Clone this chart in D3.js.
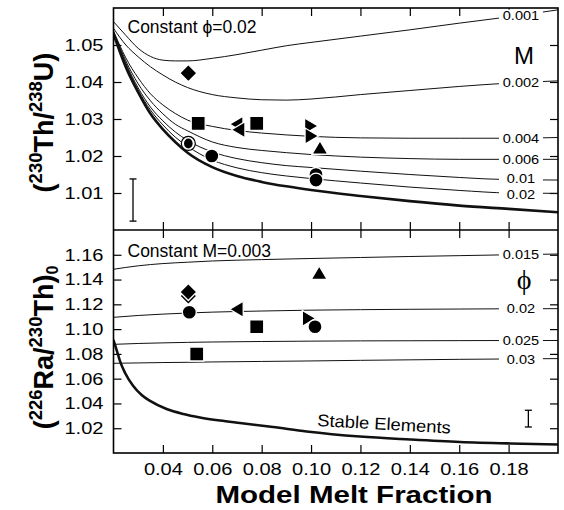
<!DOCTYPE html>
<html><head><meta charset="utf-8">
<script src="https://cdn.jsdelivr.net/npm/d3@7"></script>
<style>body{margin:0;background:#fff} text{font-family:"Liberation Sans",Arial,Helvetica,sans-serif;fill:#000}</style>
</head><body><svg id="c" width="564" height="510"></svg>
<script>
// ---------- DATA ----------
const xGrid = [0.02,0.025,0.03,0.035,0.04,0.045,0.05,0.06,0.07,0.08,0.09,0.10,0.12,0.14,0.16,0.18,0.20];
const thLabels = ["0.001","0.002","0.004","0.006","0.01","0.02"];
const thM001 = [1.0563,1.0526,1.0491,1.0469,1.0459,1.0457,1.0457,1.0464,1.0474,1.0486,1.0498,1.0507,1.0524,1.0541,1.0559,1.0576,1.0595];
const thM002 = [1.0545,1.0500,1.0468,1.0441,1.0419,1.0400,1.0385,1.0366,1.0357,1.0352,1.0351,1.0354,1.0366,1.0377,1.0388,1.0397,1.0403];
const thM004 = [1.0538,1.0465,1.0411,1.0368,1.0338,1.0315,1.0297,1.0280,1.0269,1.0262,1.0257,1.0253,1.0249,1.0248,1.0248,1.0248,1.0250];
const thM006 = [1.0536,1.0457,1.0395,1.0349,1.0314,1.0286,1.0268,1.0238,1.0223,1.0215,1.0209,1.0204,1.0197,1.0193,1.0191,1.0191,1.0191];
const thM01  = [1.0534,1.0451,1.0384,1.0332,1.0295,1.0265,1.0242,1.0211,1.0193,1.0182,1.0174,1.0169,1.0159,1.0150,1.0142,1.0136,1.0135];
const thM02  = [1.0532,1.0447,1.0378,1.0324,1.0284,1.0251,1.0226,1.0189,1.0168,1.0155,1.0146,1.0139,1.0127,1.0116,1.0107,1.0100,1.0099];
const thStable=[1.0530,1.0440,1.0372,1.0314,1.0272,1.0238,1.0209,1.0170,1.0146,1.0130,1.0118,1.0108,1.0092,1.0078,1.0066,1.0057,1.0048];

const xGrid2 = [0.02,0.03,0.04,0.05,0.06,0.08,0.10,0.12,0.14,0.16,0.18,0.20];
const raLabels = ["0.015","0.02","0.025","0.03"];
const raPhi015 = [1.1483,1.1511,1.1529,1.1540,1.1550,1.1561,1.1570,1.1578,1.1586,1.1593,1.1600,1.1606];
const raPhi02  = [1.1095,1.1110,1.1121,1.1130,1.1137,1.1146,1.1153,1.1157,1.1160,1.1162,1.1164,1.1165];
const raPhi025 = [1.0877,1.0884,1.0889,1.0893,1.0896,1.0900,1.0903,1.0905,1.0906,1.0907,1.0908,1.0908];
const raPhi03  = [1.0724,1.0727,1.0730,1.0732,1.0735,1.0739,1.0743,1.0748,1.0752,1.0756,1.0759,1.0762];
const stableX  = [0.02,0.0214,0.0226,0.0247,0.028,0.0314,0.0348,0.0415,0.0483,0.055,0.0631,0.0712,0.0846,0.0982,0.1198,0.1401,0.1603,0.1806,0.20];
const stableRa = [1.0912,1.0823,1.0743,1.0646,1.0541,1.0468,1.0420,1.0355,1.0315,1.0287,1.0262,1.0242,1.0210,1.0174,1.0133,1.0109,1.0089,1.0077,1.0069];

// markers: [type, melt fraction, ratio]
const thPoints = [
  ["diamond",0.0503,1.0424],["square",0.0543,1.0288],["square",0.0780,1.0288],
  ["left",0.0700,1.0286],["left",0.0708,1.0271],
  ["right",0.0998,1.0281],["right",0.1000,1.0254],["up",0.1036,1.0221],
  ["ring",0.0503,1.0234],["circle",0.0598,1.0200],["circle",0.1020,1.0150],["circle",0.1020,1.0135]
];
const raPoints = [
  ["diamond",0.0503,1.1267],["diamond",0.0503,1.1299],["circle",0.0507,1.1136],
  ["left",0.0701,1.1160],["square",0.0780,1.1019],["square",0.0537,1.0799],
  ["up",0.1033,1.1450],["right",0.0989,1.1087],["circle",0.1016,1.1019]
];
const thErr = [0.0279,1.0024,1.0138];
const raErr = [0.188,1.0210,1.0345];
const xTicks = [0.04,0.06,0.08,0.10,0.12,0.14,0.16,0.18];
const thTicks = [1.01,1.02,1.03,1.04,1.05];
const raTicks = [1.02,1.04,1.06,1.08,1.10,1.12,1.14,1.16];

// ---------- DRAW ----------
const svg = d3.select("#c");
const L=113.5, R=558, T1=8, B1=230, T2=230, B2=453;
const x = d3.scaleLinear().domain([0.02,0.20]).range([L,R]);
const y1 = d3.scaleLinear().domain([1.00,1.06]).range([B1,T1]);
const y2 = d3.scaleLinear().domain([1.00,1.18]).range([B2,T2]);
const TS = 1.18; // horizontal text stretch for tick labels

function axes(y, T, B, ticks, showX){
  const gl = svg.append("g").attr("transform",`translate(${L},0)`)
    .call(d3.axisLeft(y).tickValues(ticks).tickSize(-8).tickPadding(0).tickFormat(d3.format(".2f")));
  gl.selectAll("text").attr("x",0).attr("transform",`translate(-10,0) scale(${TS},1)`).style("font-size","17px");
  svg.append("g").attr("transform",`translate(${R},0)`)
    .call(d3.axisRight(y).tickValues(ticks).tickSize(-8).tickFormat(""));
  svg.append("g").attr("transform",`translate(0,${T})`)
    .call(d3.axisTop(x).tickValues(xTicks).tickSize(-8).tickFormat(""));
  const gb = svg.append("g").attr("transform",`translate(0,${B})`)
    .call(d3.axisBottom(x).tickValues(xTicks).tickSize(-8).tickPadding(10).tickFormat(showX? d3.format(".2f"):""));
  gb.selectAll("text").attr("transform",`scale(${TS},1)`).attr("x",0).style("font-size","17px");
  svg.selectAll(".domain").remove();
}
axes(y1,T1,B1,thTicks,false);
axes(y2,T2,B2,raTicks,true);
svg.selectAll(".tick line").attr("stroke","#000").attr("stroke-width",1.2);
svg.selectAll(".tick text").attr("fill","#000");

svg.append("clipPath").attr("id","c1").append("rect").attr("x",L).attr("y",T1).attr("width",R-L).attr("height",B1-T1);
svg.append("clipPath").attr("id","c2").append("rect").attr("x",L).attr("y",T2).attr("width",R-L).attr("height",B2-T2);

function drawCurve(xs, ys, y, clip, w){
  const line = d3.line().x(d=>x(d[0])).y(d=>y(d[1])).curve(d3.curveMonotoneX);
  svg.append("path").attr("d",line(xs.map((v,i)=>[v,ys[i]]))).attr("fill","none")
    .attr("stroke","#111").attr("stroke-width",w).attr("clip-path",`url(#${clip})`);
}
function interp(xs, ys, xv){
  for(let i=0;i<xs.length-1;i++){ if(xv>=xs[i]&&xv<=xs[i+1]){const t=(xv-xs[i])/(xs[i+1]-xs[i]);return ys[i]+t*(ys[i+1]-ys[i]);} }
  return ys[ys.length-1];
}
const thCurves=[thM001,thM002,thM004,thM006,thM01,thM02];
thCurves.forEach(c=>drawCurve(xGrid,c,y1,"c1",1));
drawCurve(xGrid,thStable,y1,"c1",2.6);
const raCurves=[raPhi015,raPhi02,raPhi025,raPhi03];
raCurves.forEach(c=>drawCurve(xGrid2,c,y2,"c2",1));
drawCurve(stableX,stableRa,y2,"c2",2.6);

const labX = 0.185;
function curveLabel(txt, yv, y, nudge){
  const px=x(labX), py=y(yv)+nudge;
  svg.append("rect").attr("x",px-22).attr("y",py-5.5).attr("width",44).attr("height",11).attr("fill","#fff");
  svg.append("text").attr("x",px).attr("y",py).attr("dy","0.36em").attr("text-anchor","middle")
    .style("font-size","13px").attr("transform",`translate(${px},0) scale(1.12,1) translate(${-px},0)`).text(txt);
}
const thNudge=[0,0,0,0,-1,1];
thCurves.forEach((c,i)=>curveLabel(thLabels[i], interp(xGrid,c,labX), y1, thNudge[i]));
raCurves.forEach((c,i)=>curveLabel(raLabels[i], interp(xGrid2,c,labX), y2, 0));

// frames
svg.append("rect").attr("x",L).attr("y",T1).attr("width",R-L).attr("height",B2-T1).attr("fill","none").attr("stroke","#000").attr("stroke-width",1.6);
svg.append("line").attr("x1",L).attr("x2",R).attr("y1",B1).attr("y2",B1).attr("stroke","#000").attr("stroke-width",1.6);

// markers
function shape(t){
  switch(t){
    case "square": return "M-7,-7H7V7H-7Z";
    case "diamond": return "M0,-8.5L8.5,0L0,8.5L-8.5,0Z";
    case "up": return "M0,-7.5L8,6L-8,6Z";
    case "left": return "M-7.5,0L6,-8L6,8Z";
    case "right": return "M7.5,0L-6,-8L-6,8Z";
  }
}
function markers(pts, y){
  pts.forEach(p=>{
    const g = svg.append("g").attr("transform",`translate(${x(p[1])},${y(p[2])})`);
    if(p[0]==="circle") g.append("circle").attr("r",7).attr("fill","#000").attr("stroke","#fff").attr("stroke-width",1.3);
    else if(p[0]==="ring"){
      g.append("circle").attr("r",7).attr("fill","#fff").attr("stroke","#000").attr("stroke-width",1.2);
      g.append("ellipse").attr("rx",4.3).attr("ry",5).attr("fill","#000");
    } else g.append("path").attr("d",shape(p[0])).attr("fill","#000").attr("stroke","#fff").attr("stroke-width",1.3);
  });
}
markers(thPoints,y1);
markers(raPoints,y2);

// error bars
function errBar(e, y){
  const px=x(e[0]);
  svg.append("line").attr("x1",px).attr("x2",px).attr("y1",y(e[1])).attr("y2",y(e[2])).attr("stroke","#000").attr("stroke-width",1.3);
  [e[1],e[2]].forEach(v=>svg.append("line").attr("x1",px-3.5).attr("x2",px+3.5).attr("y1",y(v)).attr("y2",y(v)).attr("stroke","#000").attr("stroke-width",1.3));
}
errBar(thErr,y1); errBar(raErr,y2);

// annotations
svg.append("text").attr("x",127.5).attr("y",32.5).style("font-size","17.5px").text("Constant \u03D5=0.02");
svg.append("text").attr("x",127.5).attr("y",256.5).style("font-size","17.5px").text("Constant M=0.003");
svg.append("text").attr("x",524).attr("y",63.5).attr("text-anchor","middle").style("font-size","24px").text("M");
svg.append("text").attr("x",524).attr("y",279).attr("dy","0.35em").attr("text-anchor","middle")
  .style("font-family","'Liberation Serif','Times New Roman',serif").style("font-size","28px").text("\u03D5");
svg.append("text").attr("transform","translate(317,426) rotate(3.2) scale(1.08,1)").style("font-size","17px").text("Stable Elements");

// axis titles
const yt1 = svg.append("text").attr("transform","translate(53,122.5) rotate(-90)").attr("text-anchor","middle")
  .style("font-size","27px").style("font-weight","bold");
yt1.append("tspan").text("(");
yt1.append("tspan").attr("dy",-11).style("font-size","18.5px").text("230");
yt1.append("tspan").attr("dy",11).text("Th/");
yt1.append("tspan").attr("dy",-11).style("font-size","18.5px").text("238");
yt1.append("tspan").attr("dy",11).text("U)");
const yt2 = svg.append("text").attr("transform","translate(53,347.5) rotate(-90)").attr("text-anchor","middle")
  .style("font-size","27px").style("font-weight","bold");
yt2.append("tspan").text("(");
yt2.append("tspan").attr("dy",-11).style("font-size","18.5px").text("226");
yt2.append("tspan").attr("dy",11).text("Ra/");
yt2.append("tspan").attr("dy",-11).style("font-size","18.5px").text("230");
yt2.append("tspan").attr("dy",11).text("Th)");
yt2.append("tspan").attr("dy",5).style("font-size","16px").text("0");
svg.append("text").attr("x",354).attr("y",503).attr("text-anchor","middle").style("font-size","24px").style("font-weight","bold")
  .attr("transform","translate(354,0) scale(1.23,1) translate(-354,0)").text("Model Melt Fraction");
</script></body></html>
